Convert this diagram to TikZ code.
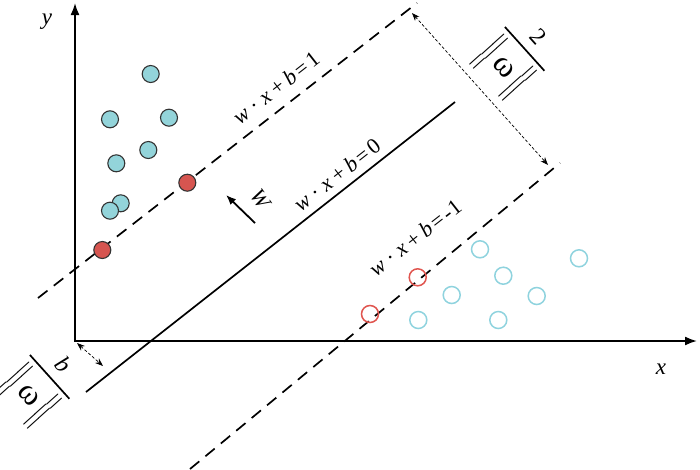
\documentclass[tikz,border=0pt]{standalone}
\usepackage{amsmath}
\usepackage{fontspec}
\setmainfont{Liberation Serif}
\usetikzlibrary{arrows.meta}
\definecolor{cyanF}{HTML}{93D4DA}
\definecolor{redF}{HTML}{D65550}
\definecolor{cyanO}{HTML}{8FD3DE}
\definecolor{redO}{HTML}{E0554F}
\definecolor{edge}{HTML}{333333}
\newcommand{\eqlab}[1]{\textit{w}\hspace{0.24em}·\hspace{0.24em}\textit{x}\hspace{0.2em}+\hspace{0.2em}\textit{b}\hspace{0.12em}=\hspace{0.12em}#1}
\newcommand{\normfrac}[1]{$\genfrac{}{}{1.7pt}{0}{\mbox{#1}}{\hspace{1pt}\Big\|\,\mbox{\fontsize{32}{34}\selectfont ω}\,\Big\|\hspace{1pt}}$}
\begin{document}
\begin{tikzpicture}[x=1pt,y=-1pt,
  axis/.style={line width=1.8pt,{Latex[length=12pt,width=9pt]}-{Latex[length=12pt,width=9pt]}},
  dline/.style={line width=1.7pt,dash pattern=on 12pt off 8pt},
  sline/.style={line width=1.7pt},
  dimarrow/.style={line width=0.7pt,dash pattern=on 3pt off 2pt,{Stealth[length=8pt,width=6pt]}-{Stealth[length=8pt,width=6pt]}},
  warrow/.style={line width=1.8pt,-{Latex[length=10pt,width=8pt]}},
  pt/.style={circle,minimum size=17pt,inner sep=0pt},
  cyf/.style={pt,draw=edge,line width=1.1pt,fill=cyanF},
  redf/.style={pt,draw=edge,line width=1.1pt,fill=redF},
  cyo/.style={pt,draw=cyanO,line width=1.5pt},
  redo/.style={pt,draw=redO,line width=1.5pt},
  lbl/.style={font=\fontsize{22}{26}\selectfont,inner sep=0pt},
  fraclbl/.style={font=\fontsize{24}{28}\selectfont,inner sep=0pt},
  axlbl/.style={font=\fontsize{23}{27}\selectfont\itshape,inner sep=0pt}
]
\useasboundingbox (0,0) rectangle (700,469);
% axes
\coordinate (O) at (75,341);
\coordinate (xend) at (697,341);
\coordinate (yend) at (75,3);
\draw[axis] (yend) -- (O) -- (xend);
\node[axlbl] (ylab) at (47,22) {y};
\node[axlbl] (xlab) at (661,369) {x};
% lines
\coordinate (U1) at (38,298);
\coordinate (U2) at (417,3);
\coordinate (S1) at (86,392);
\coordinate (S2) at (455,102);
\coordinate (L1) at (190,469);
\coordinate (L2) at (560,163);
\draw[dline] (U1) -- (U2);
\draw[sline] (S1) -- (S2);
\draw[dline] (L1) -- (L2);
% labels on lines
\node[lbl,rotate=38] (e1) at (276,88) {\eqlab{1}};
\node[lbl,rotate=38] (e0) at (337,175) {\eqlab{0}};
\node[lbl,rotate=38] (em) at (415,238) {\eqlab{-1}};
% normal vector
\coordinate (W1) at (255,223);
\coordinate (W2) at (226,195);
\draw[warrow] (W1) -- (W2);
\node[lbl,rotate=-55] (wlab) at (261,200) {\textit{W}};
% margin arrows
\coordinate (M1) at (412,13);
\coordinate (M2) at (548,165);
\draw[dimarrow] (M1) -- (M2);
\node[fraclbl,rotate=-48,anchor=base] (f2) at (520,53) {\normfrac{2}};
\coordinate (B1) at (77,343);
\coordinate (B2) at (103,366);
\draw[dimarrow] (B1) -- (B2);
\node[fraclbl,rotate=-48,anchor=base] (fb) at (45,381) {\normfrac{\textit{b}}};
% filled points
\node[cyf] (c1) at (150.7,74) {};
\node[cyf] (c2) at (110,119.3) {};
\node[cyf] (c3) at (169,117.7) {};
\node[cyf] (c4) at (148.3,150) {};
\node[cyf] (c5) at (116.3,163.3) {};
\node[cyf] (c6) at (120.7,203.3) {};
\node[cyf] (c7) at (110,210.7) {};
\node[redf] (r1) at (187.3,182.7) {};
\node[redf] (r2) at (102.3,250) {};
% open points
\node[cyo] (o1) at (480,249.3) {};
\node[cyo] (o2) at (503.3,275.7) {};
\node[cyo] (o3) at (451.7,295) {};
\node[cyo] (o4) at (418.3,320) {};
\node[cyo] (o5) at (498.3,320) {};
\node[cyo] (o6) at (536.7,296) {};
\node[cyo] (o7) at (579,258.3) {};
\node[redo] (q1) at (417.7,277.3) {};
\node[redo] (q2) at (370,314) {};
\end{tikzpicture}
\end{document}
